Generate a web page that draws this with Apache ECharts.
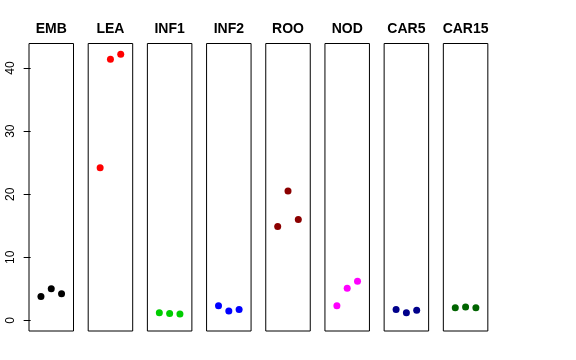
<!DOCTYPE html>
<html><head><meta charset="utf-8">
<script src="https://cdn.jsdelivr.net/npm/echarts@6/dist/echarts.min.js"></script>
<style>html,body{margin:0;padding:0;background:#fff}#c{width:576px;height:360px}</style>
</head><body><div id="c"></div>
<script>
const categories = ['EMB','LEA','INF1','INF2','ROO','NOD','CAR5','CAR15'];
const emb  = [3.8, 5.0, 4.2];
const lea  = [24.2, 41.4, 42.2];
const inf1 = [1.2, 1.1, 1.0];
const inf2 = [2.3, 1.5, 1.7];
const roo  = [14.9, 20.5, 16.0];
const nod  = [2.3, 5.1, 6.2];
const car5 = [1.7, 1.2, 1.6];
const car15 = [2.0, 2.1, 2.0];
const yTicks = [0, 10, 20, 30, 40];
const colors = ['#000000','#FF0000','#00CD00','#0000FF','#8B0000','#FF00FF','#00008B','#006400'];
const seriesValues = [emb, lea, inf1, inf2, roo, nod, car5, car15];

const chart = echarts.init(document.getElementById('c'), null, {renderer:'canvas'});
const left0 = 29, pitch = 59.19, panelW = 44.5, panelTop = 43.5, panelH = 287.5;
const grid = [], xAxis = [], yAxis = [], series = [], graphic = [];
categories.forEach((name, i) => {
  const l = left0 + i * pitch;
  grid.push({left: l, top: panelTop, width: panelW, height: panelH, show: true, borderColor: '#000', borderWidth: 1, backgroundColor: 'transparent'});
  xAxis.push({gridIndex: i, type: 'value', min: -0.16, max: 4.16, show: false});
  yAxis.push({gridIndex: i, type: 'value', min: -1.69, max: 43.9,
    show: i === 0,
    axisLine: {show: false},
    splitLine: {show: false},
    axisTick: {show: true, length: 7, lineStyle: {color: '#000'}, customValues: yTicks},
    axisLabel: {show: true, rotate: 90, margin: 12, fontSize: 12, color: '#000', fontFamily: 'Liberation Sans, Arial, sans-serif', customValues: yTicks}
  });
  series.push({type: 'scatter', xAxisIndex: i, yAxisIndex: i, symbolSize: 7,
    itemStyle: {color: colors[i], opacity: 1},
    data: seriesValues[i].map((v, j) => [j + 1, v])});
  graphic.push({type: 'text', x: l + panelW / 2, y: 29, style: {text: name, textAlign: 'center', textVerticalAlign: 'middle', font: 'bold 14px "Liberation Sans", Arial, sans-serif', fill: '#000'}});
});
chart.setOption({animation: false, grid, xAxis, yAxis, series, graphic});
</script></body></html>
